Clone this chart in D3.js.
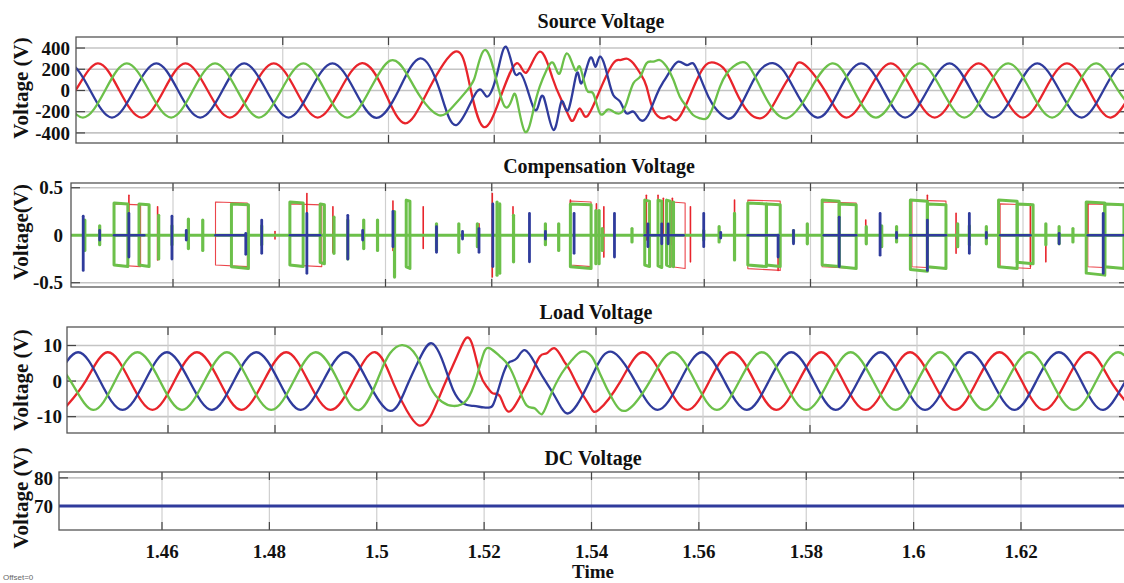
<!DOCTYPE html>
<html><head><meta charset="utf-8">
<script src="https://cdn.jsdelivr.net/npm/d3@7"></script>
<style>
body{margin:0;background:#fff}
svg{display:block}
text{font-family:"Liberation Serif","Times New Roman",serif;font-weight:bold;fill:#111}
</style>
</head><body>
<svg id="chart" width="1124" height="583"></svg>
<script>
// ---------------- DATA ----------------
const xTicks = [1.46,1.48,1.5,1.52,1.54,1.56,1.58,1.6,1.62];
const xTickLabels = ['1.46','1.48','1.5','1.52','1.54','1.56','1.58','1.6','1.62'];
const titles = ['Source Voltage','Compensation Voltage','Load Voltage','DC Voltage'];
const yLabels = ['Voltage (V)','Voltage(V)','Voltage (V)','Voltage (V)'];
const srcTicks = [400,200,0,-200,-400];
const compTicks = [0.5,0,-0.5];
const loadTicks = [10,0,-10];
const dcTicks = [80,70];

// Source voltage (V): [time s, value]
const srcRed = [[1.4366,-255],[1.4408,0],[1.4450,255],[1.4491,0],[1.4533,-255],[1.4575,0],[1.4616,255],[1.4658,0],[1.4700,-255],[1.4741,0],[1.4783,255],[1.4825,0],[1.4866,-255],[1.4908,0],[1.4950,258],[1.4991,5],
 [1.5031,-309],[1.5075,0],[1.5126,366],[1.5152,90],[1.5179,-341],[1.5212,-60],[1.5242,256],[1.5261,170],[1.5286,366],[1.5310,120],[1.5327,-89],[1.5340,-230],[1.5350,-278],[1.5362,-170],[1.5375,-246],[1.5400,5],[1.5425,256],[1.5438,287],[1.5450,300],[1.5463,256],[1.5476,162],[1.5488,36],[1.5501,-184],[1.5520,-262],[1.5532,-246],[1.5545,-278],[1.5564,-121],[1.5583,99],[1.5600,240],[1.5616,262],[1.5637,190],[1.5656,0],[1.5680,-200],[1.5703,-262],[1.5722,-184],[1.5747,36],[1.5766,193],[1.5783,256],
 [1.5825,0],[1.5866,-255],[1.5908,0],[1.5950,255],[1.5991,0],[1.6033,-255],[1.6075,0],[1.6116,255],[1.6158,0],[1.6200,-255],[1.6241,0],[1.6283,255],[1.6325,0],[1.6366,-255],[1.6408,0],[1.6450,255]];
const srcGreen = [[1.4380,0],[1.4422,-255],[1.4464,0],[1.4505,255],[1.4547,0],[1.4589,-255],[1.4630,0],[1.4672,255],[1.4714,0],[1.4755,-255],[1.4797,0],[1.4839,255],[1.4880,0],[1.4922,-255],[1.4964,0],
 [1.5003,281],[1.5034,162],[1.5060,-58],[1.5094,-231],[1.5122,-152],[1.5154,36],[1.5167,193],[1.5184,381],[1.5204,99],[1.5220,-152],[1.5233,-89],[1.5242,-70],[1.5258,-388],[1.5274,-184],[1.5286,36],[1.5299,193],[1.5312,256],[1.5324,162],[1.5337,350],[1.5353,193],[1.5362,224],[1.5375,5],[1.5387,-27],[1.5400,-215],[1.5413,-184],[1.5425,-199],[1.5438,-215],[1.5450,-121],[1.5463,67],[1.5476,130],[1.5488,256],[1.5501,272],[1.5513,287],[1.5526,224],[1.5539,99],[1.5551,-58],[1.5564,-152],[1.5576,-231],[1.5589,-262],[1.5602,-262],[1.5614,-152],[1.5627,36],[1.5640,162],[1.5652,224],[1.5665,262],[1.5677,256],[1.5690,162],[1.5709,-27],[1.5728,-184],[1.5753,-262],[1.5778,-152],
 [1.5797,0],[1.5839,255],[1.5880,0],[1.5922,-255],[1.5964,0],[1.6005,255],[1.6047,0],[1.6089,-255],[1.6130,0],[1.6172,255],[1.6214,0],[1.6255,-255],[1.6297,0],[1.6339,255],[1.6380,0],[1.6422,-255]];
const srcBlue = [[1.4352,0],[1.4394,255],[1.4436,0],[1.4477,-255],[1.4519,0],[1.4561,255],[1.4602,0],[1.4644,-255],[1.4686,0],[1.4727,255],[1.4769,0],[1.4811,-255],[1.4852,0],[1.4894,255],[1.4936,0],[1.4977,-258],
 [1.5019,0],[1.5060,303],[1.5097,0],[1.5129,-325],[1.5167,-11],[1.5186,-58],[1.5205,150],[1.5222,413],[1.5238,170],[1.5249,162],[1.5264,-11],[1.5280,-184],[1.5293,-58],[1.5312,-372],[1.5327,-105],[1.5340,-184],[1.5356,162],[1.5365,67],[1.5381,303],[1.5391,224],[1.5400,319],[1.5413,162],[1.5425,-42],[1.5438,-105],[1.5450,-215],[1.5463,-199],[1.5476,-278],[1.5491,-231],[1.5507,-42],[1.5520,83],[1.5532,177],[1.5548,272],[1.5564,240],[1.5576,256],[1.5589,130],[1.5605,-58],[1.5621,-184],[1.5640,-262],[1.5652,-246],[1.5665,-152],[1.5684,36],[1.5703,193],[1.5727,258],[1.5748,180],[1.5769,0],
 [1.5811,-255],[1.5852,0],[1.5894,255],[1.5936,0],[1.5977,-255],[1.6019,0],[1.6061,255],[1.6102,0],[1.6144,-255],[1.6186,0],[1.6227,255],[1.6269,0],[1.6311,-255],[1.6352,0],[1.6394,255],[1.6436,0]];

// Compensation voltage (V)
const compGreenBoxes = [[1.4489,1.4515,0.34,-0.33],[1.4536,1.4555,0.33,-0.33],[1.4710,1.4742,0.33,-0.35],[1.4820,1.4845,0.35,-0.33],[1.4877,1.4885,0.33,-0.30],[1.5039,1.5046,0.37,-0.35],[1.5348,1.5387,0.33,-0.35],[1.5488,1.5497,0.37,-0.33],[1.5513,1.5520,0.37,-0.34],[1.5529,1.5536,0.37,-0.33],[1.5682,1.5717,0.34,-0.33],[1.5717,1.5743,0.33,-0.33],[1.5822,1.5854,0.37,-0.33],[1.5854,1.5886,0.33,-0.35],[1.5988,1.6020,0.37,-0.38],[1.6020,1.6055,0.33,-0.35],[1.6154,1.6189,0.37,-0.35],[1.6189,1.6219,0.33,-0.30],[1.6319,1.6354,0.35,-0.42],[1.6354,1.6390,0.33,-0.35]];
const compRedBoxes = [[1.4489,1.4539,0.33,-0.33],[1.4680,1.4740,0.35,-0.33],[1.4820,1.4880,0.33,-0.33],[1.5348,1.5387,0.36,-0.33],[1.5539,1.5564,0.35,-0.35],[1.5682,1.5743,0.37,-0.37],[1.5822,1.5886,0.35,-0.35],[1.5991,1.6055,0.37,-0.35],[1.6157,1.6214,0.33,-0.35],[1.6322,1.6390,0.33,-0.35]];
const compRedSpikes = [[1.4517,-0.05,0.42],[1.4571,-0.26,0.30],[1.4625,-0.05,0.05],[1.4740,-0.20,0],[1.4792,-0.04,0.04],[1.4852,0,0.44],[1.4901,-0.18,0.30],[1.4957,-0.05,0.04],[1.4985,-0.04,0.02],[1.5014,-0.16,0.36],[1.5039,-0.25,0.10],[1.5071,-0.14,0.30],[1.5176,-0.16,0.12],[1.5201,-0.44,0.44],[1.5240,-0.26,0.30],[1.5326,-0.05,0.12],[1.5348,0,0.37],[1.5397,-0.25,0.33],[1.5411,-0.23,0.30],[1.5464,-0.03,0.03],[1.5491,-0.05,0.42],[1.5513,0,0.42],[1.5523,0,0.39],[1.5540,-0.10,0.39],[1.5574,-0.28,0.30],[1.5657,-0.25,0.37],[1.5739,-0.37,0],[1.5794,-0.03,0.03],[1.5904,-0.07,0.16],[1.5962,-0.04,0.04],[1.6020,0,0.42],[1.6074,-0.19,0.23],[1.6131,-0.04,0.03],[1.6214,-0.33,0.33],[1.6243,-0.28,0.10],[1.6294,-0.03,0.03],[1.6322,0,0.35]];
const compBlueSpikes = [[1.4431,-0.37,0.20],[1.4462,-0.05,0.05],[1.4517,-0.23,0.23],[1.4598,-0.25,0.20],[1.4625,-0.05,0.05],[1.4737,-0.20,0.02],[1.4767,-0.19,0.16],[1.4852,-0.40,0.23],[1.4929,-0.25,0.21],[1.4957,-0.05,0.05],[1.5014,-0.12,0.25],[1.5096,-0.18,0.09],[1.5145,-0.04,0.04],[1.5176,-0.18,0.07],[1.5202,-0.33,0.33],[1.5271,-0.28,0.23],[1.5301,-0.04,0.04],[1.5355,-0.19,0.23],[1.5431,-0.23,0.23],[1.5494,-0.12,0.12],[1.5520,-0.09,0.12],[1.5532,-0.09,0.12],[1.5599,-0.12,0.23],[1.5631,-0.03,0.03],[1.5739,-0.23,0],[1.5768,-0.09,0.05],[1.5854,-0.33,0.19],[1.5931,-0.21,0.23],[1.5962,-0.03,0.03],[1.6020,-0.37,0.16],[1.6099,-0.19,0.23],[1.6131,-0.03,0.03],[1.6268,-0.09,0.02],[1.6351,-0.40,0.23]];
const compBlueRuns = [[1.4489,1.4546],[1.4680,1.4737],[1.4820,1.4877],[1.5488,1.5561],[1.5682,1.5739],[1.5825,1.5886],[1.5988,1.6055],[1.6157,1.6214],[1.6322,1.6392]];
const compGreenSpikes = [[1.4434,-0.16,0.16],[1.4462,-0.10,0.10],[1.4573,-0.25,0.21],[1.4598,-0.10,0.10],[1.4629,-0.14,0.17],[1.4656,-0.16,0.16],[1.4767,-0.10,0.10],[1.4903,-0.19,0.19],[1.4929,-0.25,0.16],[1.4959,-0.14,0.16],[1.4985,-0.16,0.16],[1.5017,-0.44,0.25],[1.5096,-0.16,0.12],[1.5138,-0.18,0.12],[1.5173,-0.12,0.12],[1.5210,-0.42,0.35],[1.5215,-0.40,0.33],[1.5241,-0.28,0.21],[1.5301,-0.10,0.12],[1.5326,-0.16,0.12],[1.5396,-0.30,0.26],[1.5402,-0.30,0.26],[1.5408,-0.16,0.07],[1.5464,-0.07,0.07],[1.5542,-0.33,0.35],[1.5599,-0.05,0.05],[1.5628,-0.07,0.09],[1.5657,-0.26,0.23],[1.5768,-0.07,0.05],[1.5794,-0.09,0.12],[1.5905,-0.09,0.09],[1.5934,-0.12,0.10],[1.5962,-0.07,0.09],[1.6077,-0.12,0.12],[1.6099,-0.10,0.10],[1.6131,-0.09,0.09],[1.6243,-0.10,0.12],[1.6268,-0.09,0.09],[1.6294,-0.07,0.07]];
const compBaseline = [[1.44,0],[1.645,0]];

// Load voltage (V)
const loadBlue = [[1.4390,0],[1.4432,8.1],[1.4473,0],[1.4515,-8.1],[1.4557,0],[1.4598,8.1],[1.4640,0],[1.4682,-8.1],[1.4723,0],[1.4765,8.1],[1.4807,0],[1.4848,-8.1],[1.4890,0],[1.4932,8.1],[1.4973,0],[1.5015,-8.4],
 [1.5046,-1.6],[1.5071,6.5],[1.5093,10.6],[1.5115,5.0],[1.5133,-2.5],[1.5152,-6.3],[1.5171,-7.0],[1.5190,-7.4],[1.5202,-7.4],[1.5211,-5.4],[1.5227,2.2],[1.5239,5.4],[1.5252,6.4],[1.5267,8.7],[1.5286,5.0],[1.5302,0.8],[1.5320,-3.5],[1.5336,-7.7],[1.5348,-9.1],[1.5364,-6.8],[1.5383,-1.6],[1.5401,4.0],[1.5430,8.2],
 [1.5473,0],[1.5515,-8.1],[1.5557,0],[1.5598,8.1],[1.5640,0],[1.5682,-8.1],[1.5723,0],[1.5765,8.1],[1.5807,0],[1.5848,-8.1],[1.5890,0],[1.5932,8.1],[1.5973,0],[1.6015,-8.1],[1.6057,0],[1.6098,8.1],[1.6140,0],[1.6182,-8.1],[1.6223,0],[1.6265,8.1],[1.6307,0],[1.6348,-8.1],[1.6390,0],[1.6432,8.1]];
const loadRed = [[1.4404,-8.1],[1.4446,0],[1.4487,8.1],[1.4529,0],[1.4571,-8.1],[1.4612,0],[1.4654,8.1],[1.4696,0],[1.4737,-8.1],[1.4779,0],[1.4821,8.1],[1.4862,0],[1.4904,-8.1],[1.4946,0],[1.4987,8.1],
 [1.5021,-0.5],[1.5046,-8.2],[1.5068,-12.4],[1.5090,-10.1],[1.5115,-1.6],[1.5140,6.9],[1.5155,11.7],[1.5168,10.6],[1.5183,2.2],[1.5196,-1.6],[1.5208,-3.5],[1.5221,-4.4],[1.5236,-8.6],[1.5258,-4.4],[1.5277,1.2],[1.5295,6.9],[1.5308,7.8],[1.5323,9.2],[1.5339,5.9],[1.5351,3.1],[1.5370,-2.5],[1.5389,-7.2],[1.5405,-8.1],
 [1.5446,0],[1.5487,8.1],[1.5529,0],[1.5571,-8.1],[1.5612,0],[1.5654,8.1],[1.5696,0],[1.5737,-8.1],[1.5779,0],[1.5821,8.1],[1.5862,0],[1.5904,-8.1],[1.5946,0],[1.5987,8.1],[1.6029,0],[1.6071,-8.1],[1.6112,0],[1.6154,8.1],[1.6196,0],[1.6237,-8.1],[1.6279,0],[1.6321,8.1],[1.6362,0],[1.6404,-8.1]];
const loadGreen = [[1.4376,8.1],[1.4418,0],[1.4460,-8.1],[1.4501,0],[1.4543,8.1],[1.4585,0],[1.4626,-8.1],[1.4668,0],[1.4710,8.1],[1.4751,0],[1.4793,-8.1],[1.4835,0],[1.4876,8.1],[1.4918,0],[1.4958,-8.1],
 [1.4996,2.0],[1.5015,7.8],[1.5037,10.1],[1.5065,6.9],[1.5090,-1.6],[1.5112,-5.8],[1.5133,-7.0],[1.5158,-5.4],[1.5177,1.2],[1.5190,7.8],[1.5202,9.2],[1.5221,6.9],[1.5236,4.5],[1.5252,-0.7],[1.5270,-6.8],[1.5286,-7.7],[1.5299,-9.3],[1.5314,-4.4],[1.5336,2.2],[1.5355,5.9],[1.5373,8.3],[1.5392,6.9],[1.5407,2.2],[1.5432,-5.4],[1.5459,-8.1],
 [1.5501,0],[1.5543,8.1],[1.5585,0],[1.5626,-8.1],[1.5668,0],[1.5710,8.1],[1.5751,0],[1.5793,-8.1],[1.5835,0],[1.5876,8.1],[1.5918,0],[1.5960,-8.1],[1.6001,0],[1.6043,8.1],[1.6085,0],[1.6126,-8.1],[1.6168,0],[1.6210,8.1],[1.6251,0],[1.6293,-8.1],[1.6335,0],[1.6376,8.1],[1.6418,0]];

// DC voltage (V)
const dcTimes = [1.44, 1.645];
const dcValues = [70, 70];

// ---------------- LAYOUT ----------------
const C = {red:'#e8242b', blue:'#2f3b9c', green:'#6cc04a'};
const svg = d3.select('#chart');
const panels = [
  {left:76, right:1128, top:37, bottom:143, g0:177, g8:1023, domain:[-495,504], ticks:srcTicks, labX:70, titleX:601, titleY:28, ylabY:88},
  {left:71, right:1128, top:183, bottom:287, g0:173, g8:1023, domain:[-0.545,0.55], ticks:compTicks, labX:63, titleX:599, titleY:173, ylabY:232},
  {left:67, right:1128, top:327, bottom:433, g0:168, g8:1024, domain:[-14.6,15.2], ticks:loadTicks, labX:62, titleX:596, titleY:319, ylabY:380},
  {left:59, right:1128, top:472, bottom:530, g0:162, g8:1021, domain:[61.4,82.1], ticks:dcTicks, labX:53, titleX:593, titleY:465, ylabY:498}
];
const fmt = v => (Math.abs(v) < 1e-9 ? '0' : String(v));

panels.forEach((p, i) => {
  p.x = d3.scaleLinear().domain([xTicks[0], xTicks[xTicks.length-1]]).range([p.g0, p.g8]);
  p.y = d3.scaleLinear().domain(p.domain).range([p.bottom, p.top]);
  const g = svg.append('g');
  g.append('rect').attr('x', p.left).attr('y', p.top).attr('width', p.right - p.left).attr('height', p.bottom - p.top)
    .attr('fill', '#fff');
  g.selectAll('.hg').data(p.ticks).enter().append('line')
    .attr('x1', p.left).attr('x2', p.right).attr('y1', d => p.y(d)).attr('y2', d => p.y(d))
    .attr('stroke', '#c4c4c4').attr('stroke-width', 1.6);
  g.selectAll('.vg').data(xTicks).enter().append('line')
    .attr('x1', d => p.x(d)).attr('x2', d => p.x(d)).attr('y1', p.top).attr('y2', p.bottom)
    .attr('stroke', '#cfcfcf').attr('stroke-width', 1.2);
  xTicks.forEach(t => {
    g.append('line').attr('x1', p.x(t)).attr('x2', p.x(t)).attr('y1', p.top).attr('y2', p.top + 8).attr('stroke', '#444').attr('stroke-width', 1.2);
    g.append('line').attr('x1', p.x(t)).attr('x2', p.x(t)).attr('y1', p.bottom - 8).attr('y2', p.bottom).attr('stroke', '#444').attr('stroke-width', 1.2);
  });
  p.ticks.forEach(v => {
    g.append('line').attr('x1', p.left).attr('x2', p.left + 9).attr('y1', p.y(v)).attr('y2', p.y(v)).attr('stroke', '#444').attr('stroke-width', 1.2);
    g.append('line').attr('x1', p.right - 9).attr('x2', p.right).attr('y1', p.y(v)).attr('y2', p.y(v)).attr('stroke', '#444').attr('stroke-width', 1.2);
  });
  g.selectAll('.yl').data(p.ticks).enter().append('text')
    .attr('x', p.labX).attr('y', d => p.y(d)).attr('dy', '0.35em')
    .attr('text-anchor', 'end').attr('font-size', 19).text(d => fmt(d));
  g.append('text').attr('x', p.titleX).attr('y', p.titleY).attr('text-anchor', 'middle')
    .attr('font-size', 20).text(titles[i]);
  g.append('text').attr('transform', `translate(21,${p.ylabY}) rotate(-90)`)
    .attr('text-anchor', 'middle').attr('dy', '0.35em').attr('font-size', 21).text(yLabels[i]);
  const cid = 'clip' + i;
  svg.append('clipPath').attr('id', cid).append('rect')
    .attr('x', p.left).attr('y', p.top).attr('width', p.right - p.left).attr('height', p.bottom - p.top);
  p.plot = svg.append('g').attr('clip-path', `url(#${cid})`);
});

function drawCurve(p, data, color, w) {
  const line = d3.line().x(d => p.x(d[0])).y(d => p.y(d[1])).curve(d3.curveNatural);
  p.plot.append('path').datum(data).attr('d', line).attr('fill', 'none')
    .attr('stroke', color).attr('stroke-width', w).attr('stroke-linejoin', 'round');
}
function drawPoly(p, data, color, w, op) {
  const line = d3.line().x(d => p.x(d[0])).y(d => p.y(d[1]));
  p.plot.append('path').datum(data).attr('d', line).attr('fill', 'none')
    .attr('stroke', color).attr('stroke-width', w).attr('stroke-linejoin', 'round')
    .attr('stroke-linecap', 'round').attr('opacity', op || 1);
}

drawCurve(panels[0], srcRed, C.red, 2.3);
drawCurve(panels[0], srcBlue, C.blue, 2.3);
drawCurve(panels[0], srcGreen, C.green, 2.3);

const P2 = panels[1];
const boxPts = b => [[b[0],0],[b[0],b[2]],[b[1],b[2]*0.97],[b[1],b[3]],[b[0],b[3]*0.95],[b[0],0]];
compRedBoxes.forEach(b => drawPoly(P2, boxPts(b), C.red, 1.1, 0.85));
compRedSpikes.forEach(s => drawPoly(P2, [[s[0],s[1]],[s[0],s[2]]], C.red, 1.6));
drawPoly(P2, compBaseline, C.green, 3.2);
compGreenBoxes.forEach(b => drawPoly(P2, boxPts(b), C.green, 3));
compGreenSpikes.forEach(s => drawPoly(P2, [[s[0],s[1]],[s[0],s[2]]], C.green, 3.2));
compBlueRuns.forEach(r => drawPoly(P2, [[r[0],0],[r[1],0]], C.blue, 2.6));
compBlueSpikes.forEach(s => drawPoly(P2, [[s[0],s[1]],[s[0],s[2]]], C.blue, 2.8));

drawCurve(panels[2], loadRed, C.red, 2.3);
drawCurve(panels[2], loadBlue, C.blue, 2.3);
drawCurve(panels[2], loadGreen, C.green, 2.3);

drawPoly(panels[3], dcTimes.map((t, k) => [t, dcValues[k]]), C.blue, 3);

panels.forEach(p => {
  svg.append('rect').attr('x', p.left).attr('y', p.top).attr('width', p.right - p.left).attr('height', p.bottom - p.top)
    .attr('fill', 'none').attr('stroke', '#555').attr('stroke-width', 1.3);
});

const P4 = panels[3];
svg.selectAll('.xl').data(xTicks).enter().append('text')
  .attr('x', d => P4.x(d)).attr('y', 558).attr('text-anchor', 'middle').attr('font-size', 19)
  .text((d, k) => xTickLabels[k]);
svg.append('text').attr('x', 593).attr('y', 578).attr('text-anchor', 'middle').attr('font-size', 19).text('Time');
svg.append('text').attr('x', 3).attr('y', 580).attr('font-size', 8).style('font-family', 'Liberation Sans, Arial, sans-serif')
  .style('font-weight', 'normal').style('fill', '#666').text('Offset=0');
</script>
</body></html>
